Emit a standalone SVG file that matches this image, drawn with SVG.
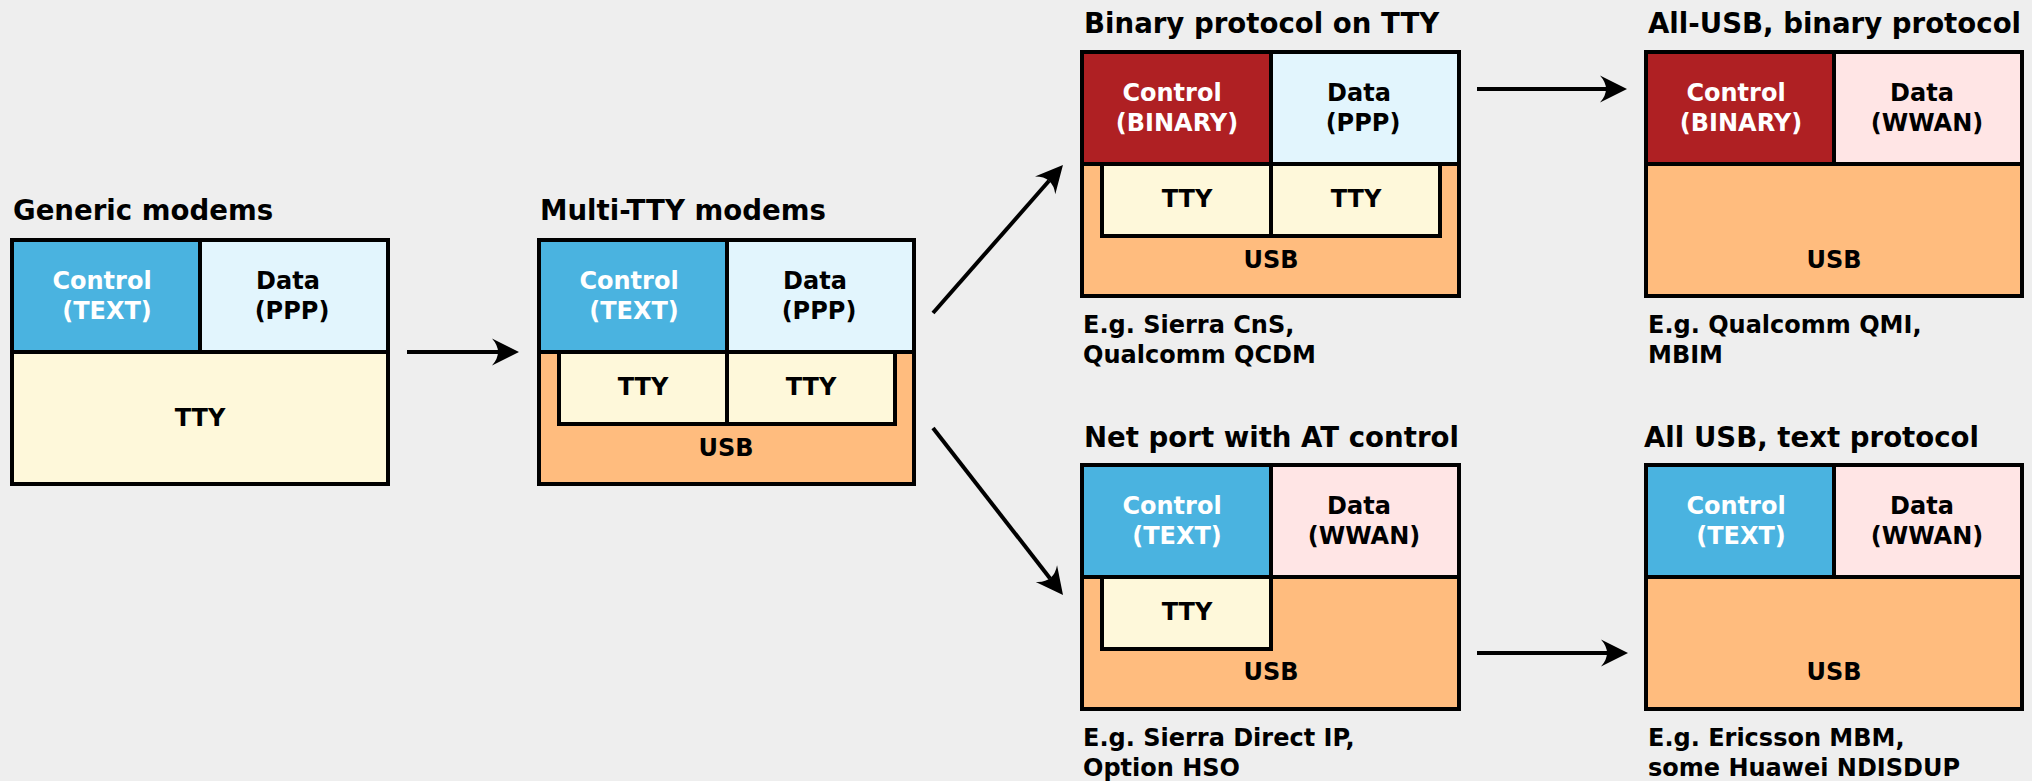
<svg xmlns="http://www.w3.org/2000/svg" width="2032" height="781" viewBox="0 0 2032 781">
<defs>
<style>
.b{stroke:#000;stroke-width:4}
.ctl{fill:#4ab3e0}
.bin{fill:#af2023}
.dppp{fill:#e2f5fd}
.dwwan{fill:#ffe5e5}
.tty{fill:#fef8da}
.usb{fill:#ffbc7e}
text{font-family:"DejaVu Sans","Liberation Sans",sans-serif;font-weight:bold}
.t{font-size:27.6px;fill:#000}
.l{font-size:24px;text-anchor:middle;fill:#000}
.w{fill:#fff}
.c{font-size:24px;fill:#000}
.arr{stroke:#000;stroke-width:4;fill:none;marker-end:url(#ah)}
</style>
<marker id="ah" markerUnits="userSpaceOnUse" orient="auto" refX="0" refY="0" markerWidth="40" markerHeight="40" viewBox="-10 -20 40 40" overflow="visible">
<path d="M21,0 L-6,-13.5 Q6,0 -6,13.5 Z" fill="#000"/>
</marker>
</defs>
<rect width="2032" height="781" fill="#eeeeee"/>

<g id="generic-modems">
<text class="t" x="13" y="220">Generic modems</text>
<rect class="b tty" x="12" y="240" width="376" height="244"/>
<rect class="b ctl" x="12" y="240" width="188" height="112"/>
<rect class="b dppp" x="200" y="240" width="188" height="112"/>
<text class="l w" x="102" y="289">Control</text>
<text class="l w" x="107" y="319">(TEXT)</text>
<text class="l" x="288" y="289">Data</text>
<text class="l" x="292" y="319">(PPP)</text>
<text class="l" x="200" y="426">TTY</text>
</g>

<g id="multi-tty-modems">
<text class="t" x="540" y="220">Multi-TTY modems</text>
<rect class="b usb" x="539" y="240" width="375" height="244"/>
<rect class="b ctl" x="539" y="240" width="188" height="112"/>
<rect class="b dppp" x="727" y="240" width="187" height="112"/>
<rect class="b tty" x="559" y="352" width="168" height="72"/>
<rect class="b tty" x="727" y="352" width="168" height="72"/>
<text class="l w" x="629" y="289">Control</text>
<text class="l w" x="634" y="319">(TEXT)</text>
<text class="l" x="815" y="289">Data</text>
<text class="l" x="819" y="319">(PPP)</text>
<text class="l" x="643" y="395">TTY</text>
<text class="l" x="811" y="395">TTY</text>
<text class="l" x="726" y="456">USB</text>
</g>

<g id="binary-on-tty">
<text class="t" x="1084" y="33">Binary protocol on TTY</text>
<rect class="b usb" x="1082" y="52" width="377" height="244"/>
<rect class="b bin" x="1082" y="52" width="189" height="112"/>
<rect class="b dppp" x="1271" y="52" width="188" height="112"/>
<rect class="b tty" x="1102" y="164" width="169" height="72"/>
<rect class="b tty" x="1271" y="164" width="169" height="72"/>
<text class="l w" x="1172" y="101">Control</text>
<text class="l w" x="1177" y="131">(BINARY)</text>
<text class="l" x="1359" y="101">Data</text>
<text class="l" x="1363" y="131">(PPP)</text>
<text class="l" x="1187" y="207">TTY</text>
<text class="l" x="1356" y="207">TTY</text>
<text class="l" x="1271" y="268">USB</text>
<text class="c" x="1083" y="333">E.g. Sierra CnS,</text>
<text class="c" x="1083" y="363">Qualcomm QCDM</text>
</g>

<g id="all-usb-binary">
<text class="t" x="1648" y="33">All-USB, binary protocol</text>
<rect class="b usb" x="1646" y="52" width="376" height="244"/>
<rect class="b bin" x="1646" y="52" width="188" height="112"/>
<rect class="b dwwan" x="1834" y="52" width="188" height="112"/>
<text class="l w" x="1736" y="101">Control</text>
<text class="l w" x="1741" y="131">(BINARY)</text>
<text class="l" x="1922" y="101">Data</text>
<text class="l" x="1927" y="131">(WWAN)</text>
<text class="l" x="1834" y="268">USB</text>
<text class="c" x="1648" y="333">E.g. Qualcomm QMI,</text>
<text class="c" x="1648" y="363">MBIM</text>
</g>

<g id="net-port-at">
<text class="t" x="1084" y="447">Net port with AT control</text>
<rect class="b usb" x="1082" y="465" width="377" height="244"/>
<rect class="b ctl" x="1082" y="465" width="189" height="112"/>
<rect class="b dwwan" x="1271" y="465" width="188" height="112"/>
<rect class="b tty" x="1102" y="577" width="169" height="72"/>
<text class="l w" x="1172" y="514">Control</text>
<text class="l w" x="1177" y="544">(TEXT)</text>
<text class="l" x="1359" y="514">Data</text>
<text class="l" x="1364" y="544">(WWAN)</text>
<text class="l" x="1187" y="620">TTY</text>
<text class="l" x="1271" y="680">USB</text>
<text class="c" x="1083" y="746">E.g. Sierra Direct IP,</text>
<text class="c" x="1083" y="776">Option HSO</text>
</g>

<g id="all-usb-text">
<text class="t" x="1644" y="447">All USB, text protocol</text>
<rect class="b usb" x="1646" y="465" width="376" height="244"/>
<rect class="b ctl" x="1646" y="465" width="188" height="112"/>
<rect class="b dwwan" x="1834" y="465" width="188" height="112"/>
<text class="l w" x="1736" y="514">Control</text>
<text class="l w" x="1741" y="544">(TEXT)</text>
<text class="l" x="1922" y="514">Data</text>
<text class="l" x="1927" y="544">(WWAN)</text>
<text class="l" x="1834" y="680">USB</text>
<text class="c" x="1648" y="746">E.g. Ericsson MBM,</text>
<text class="c" x="1648" y="776">some Huawei NDISDUP</text>
</g>

<g id="connectors">
<path class="arr" d="M407,352 L498,352"/>
<path class="arr" d="M933,313 L1049.1,180.8"/>
<path class="arr" d="M933,428 L1050.1,578.4"/>
<path class="arr" d="M1477,89 L1606,89"/>
<path class="arr" d="M1477,653 L1607,653"/>
</g>
</svg>
